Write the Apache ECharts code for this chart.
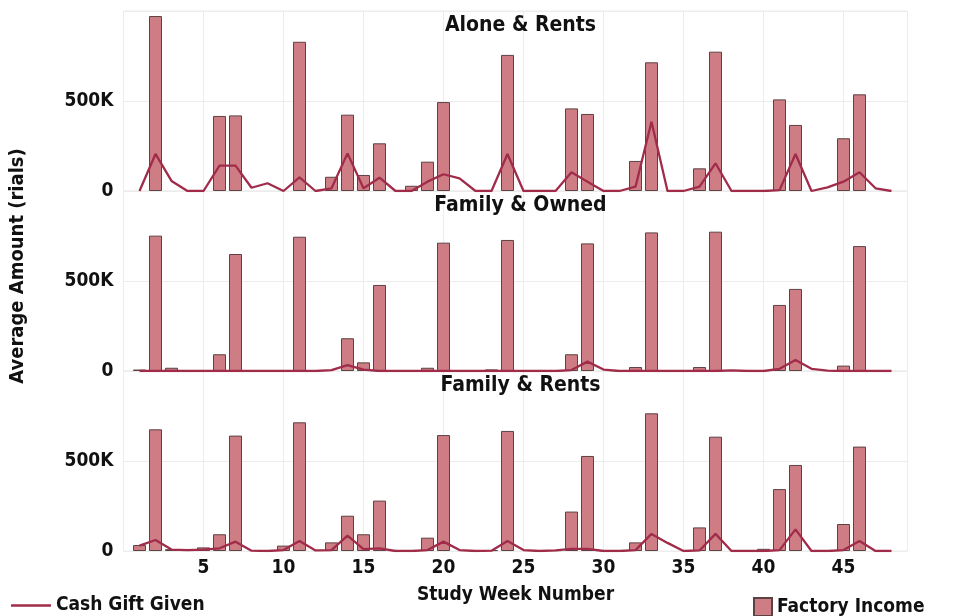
<!DOCTYPE html>
<html>
<head>
<meta charset="utf-8">
<script src="https://cdn.jsdelivr.net/npm/echarts@6/dist/echarts.min.js"></script>
<style>
  html, body { margin: 0; padding: 0; background: #ffffff; }
  #chart { width: 954px; height: 616px; }
</style>
</head>
<body>
<div id="chart"></div>
<script>
// Study weeks 1..48
const weeks = Array.from({ length: 48 }, (_, i) => i + 1);

const panelTitles = ['Alone & Rents', 'Family & Owned', 'Family & Rents'];
const xTickLabels = [5, 10, 15, 20, 25, 30, 35, 40, 45];
const yTickLabels = { 0: '0', 500000: '500K' };

// Average factory income per week (rials); null = no income recorded
const incomeAloneRents = [
  null, 972000, null, null, null, 417000, 420000, null, null, null,
  829000, null, 79000, 424000, 89000, 265000, null, 29000, 163000, 494000,
  null, null, null, 756000, null, null, null, 459000, 428000, null,
  null, 167000, 715000, null, null, 126000, 774000, null, null, null,
  509000, 367000, null, null, 293000, 537000, null, null
];
const incomeFamilyOwned = [
  8000, 752000, 18000, null, null, 93000, 650000, null, null, null,
  746000, null, null, 182000, 48000, 478000, null, null, 18000, 713000,
  null, null, 9000, 728000, null, null, null, 93000, 709000, null,
  null, 22000, 770000, null, null, 22000, 774000, null, null, null,
  367000, 456000, null, null, 30000, 694000, null, null
];
const incomeFamilyRents = [
  33000, 676000, 10000, 8000, 20000, 93000, 641000, null, null, 30000,
  715000, null, 48000, 196000, 93000, 280000, null, 5000, 74000, 644000,
  null, null, 5000, 667000, null, null, 5000, 219000, 528000, null,
  null, 48000, 765000, null, null, 131000, 635000, null, null, 12000,
  344000, 478000, null, null, 150000, 580000, null, null
];

// Average cash gift given per week (rials)
const giftAloneRents = [
  0, 206000, 56000, 0, 0, 141000, 141000, 18000, 43000, 0,
  76000, 0, 15000, 209000, 15000, 74000, 0, 0, 52000, 93000,
  70000, 0, 0, 206000, 0, 0, 0, 104000, 52000, 0,
  0, 24000, 385000, 0, 0, 24000, 154000, 0, 0, 0,
  5000, 206000, 0, 20000, 52000, 104000, 15000, 0
];
const giftFamilyOwned = [
  0, 0, 0, 0, 0, 0, 0, 0, 0, 0,
  0, 0, 5000, 33000, 8000, 0, 0, 0, 0, 0,
  0, 0, 0, 0, 0, 0, 0, 5000, 52000, 8000,
  0, 0, 0, 0, 0, 0, 0, 3000, 0, 0,
  12000, 61000, 12000, 2000, 0, 0, 0, 0
];
const giftFamilyRents = [
  30000, 61000, 8000, 5000, 8000, 15000, 52000, 2000, 0, 5000,
  55000, 3000, 5000, 85000, 10000, 15000, 0, 0, 5000, 52000,
  5000, 0, 2000, 55000, 5000, 0, 3000, 12000, 12000, 0,
  0, 5000, 95000, 45000, 0, 3000, 95000, 0, 0, 0,
  5000, 120000, 0, 0, 5000, 55000, 0, 0
];

const incomeByPanel = [incomeAloneRents, incomeFamilyOwned, incomeFamilyRents];
const giftByPanel = [giftAloneRents, giftFamilyOwned, giftFamilyRents];

const FONT = "'DejaVu Sans Condensed', 'DejaVu Sans', sans-serif";
const BAR_FILL = '#cf7d85';
const BAR_EDGE = '#5c4242';
const LINE_COLOR = '#a02c4a';
const GRID_COLOR = '#ececec';

const pairs = (arr) => weeks.map((w, i) => [w, arr[i]]);

const plotLeft = 123.5, plotWidth = 784, panelTop = 11, panelHeight = 180;

const grids = [], xAxes = [], yAxes = [], series = [], titles = [];
panelTitles.forEach((name, p) => {
  const isLast = p === panelTitles.length - 1;
  grids.push({
    left: plotLeft, width: plotWidth,
    top: panelTop + p * panelHeight, height: panelHeight,
    show: true, borderColor: GRID_COLOR, borderWidth: 1
  });
  xAxes.push({
    type: 'value', gridIndex: p, min: 0, max: 49, interval: 5,
    axisLine: { show: false }, axisTick: { show: false },
    splitLine: { show: true, lineStyle: { color: GRID_COLOR, width: 1 } },
    axisLabel: {
      show: isLast, showMinLabel: false, showMaxLabel: false,
      margin: 8, color: '#111', fontFamily: FONT, fontWeight: 'bold', fontSize: 19,
      formatter: (v) => (xTickLabels.includes(v) ? String(v) : '')
    },
    name: isLast ? 'Study Week Number' : '',
    nameLocation: 'middle', nameGap: 35,
    nameTextStyle: { color: '#111', fontFamily: FONT, fontWeight: 'bold', fontSize: 19 }
  });
  yAxes.push({
    type: 'value', gridIndex: p, min: 0, max: 1000000, interval: 500000,
    axisLine: { show: false }, axisTick: { show: false },
    splitLine: { show: true, lineStyle: { color: GRID_COLOR, width: 1 } },
    axisLabel: {
      showMaxLabel: false, margin: 10, color: '#111',
      fontFamily: FONT, fontWeight: 'bold', fontSize: 19,
      formatter: (v) => (yTickLabels[v] !== undefined ? yTickLabels[v] : '')
    }
  });
  titles.push({
    text: name, left: plotLeft + plotWidth / 2, textAlign: 'center',
    top: panelTop + p * panelHeight - 1,
    textStyle: { color: '#111', fontFamily: FONT, fontWeight: 'bold', fontSize: 21 }
  });
  series.push({
    name: 'Factory Income', type: 'bar', xAxisIndex: p, yAxisIndex: p,
    barWidth: 13, data: pairs(incomeByPanel[p]),
    itemStyle: { color: BAR_FILL, borderColor: BAR_EDGE, borderWidth: 1 },
    z: 2
  });
  series.push({
    name: 'Cash Gift Given', type: 'line', xAxisIndex: p, yAxisIndex: p,
    data: pairs(giftByPanel[p]), symbol: 'none', showSymbol: false,
    lineStyle: { color: LINE_COLOR, width: 2.3 },
    itemStyle: { color: LINE_COLOR },
    z: 3
  });
});

const chart = echarts.init(document.getElementById('chart'), null, { renderer: 'canvas' });
chart.setOption({
  backgroundColor: '#ffffff',
  animation: false,
  title: titles,
  grid: grids,
  xAxis: xAxes,
  yAxis: yAxes,
  series: series,
  legend: [
    {
      data: [{ name: 'Cash Gift Given', icon: 'rect' }], left: 6, top: 591,
      itemWidth: 40, itemHeight: 2.5, itemGap: 6,
      textStyle: { color: '#111', fontFamily: FONT, fontWeight: 'bold', fontSize: 19 }
    },
    {
      data: ['Factory Income'], left: 748, top: 592,
      icon: 'rect', itemWidth: 18, itemHeight: 18, itemGap: 6,
      textStyle: { color: '#111', fontFamily: FONT, fontWeight: 'bold', fontSize: 19 }
    }
  ],
  graphic: [{
    type: 'text', x: 18, y: 266, rotation: Math.PI / 2,
    style: {
      text: 'Average Amount (rials)', fill: '#111',
      font: "bold 20px 'DejaVu Sans Condensed', 'DejaVu Sans', sans-serif",
      align: 'center', verticalAlign: 'middle'
    }
  }]
});
</script>
</body>
</html>
